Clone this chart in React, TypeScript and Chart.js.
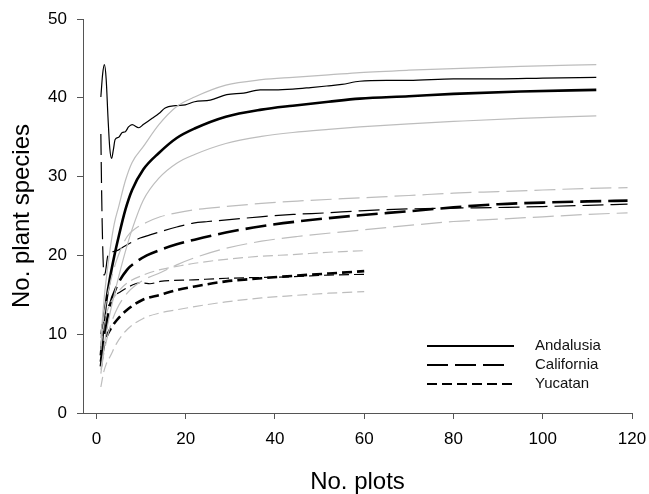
import { useEffect, useRef } from 'react';
import { Chart, registerables } from 'chart.js';

Chart.register(...registerables);

// ---- axis ticks ----
const xTicks = [0, 20, 40, 60, 80, 100, 120];
const yTicks = [0, 10, 20, 30, 40, 50];

// ---- Andalusia (solid) ----
const andX = [1, 1.5, 2, 3, 4, 5, 6.5, 8, 10.5, 14, 18, 22, 29, 37, 44, 52, 59, 70, 80, 95, 112];
const andMean = [7.3, 10.5, 13.3, 17.0, 19.9, 22.4, 25.8, 28.3, 30.9, 33.0, 34.9, 36.1, 37.6, 38.5, 39.0, 39.5, 39.9, 40.2, 40.5, 40.8, 41.0];
const andUpper = [9.5, 13, 16, 20.5, 24, 26.2, 29.5, 31.8, 33.8, 36.6, 38.9, 40.1, 41.6, 42.3, 42.6, 42.9, 43.2, 43.5, 43.7, 44.0, 44.2];
const andLower = [5.5, 7.5, 9.5, 12.5, 15, 17.3, 20.5, 23.3, 27, 29.8, 31.7, 32.8, 34.2, 35.1, 35.6, 36.0, 36.3, 36.7, 37.0, 37.4, 37.7];
const andObsX = [1, 1.4, 1.8, 2.2, 2.6, 3, 3.4, 3.8, 4.2, 5, 5.8, 6.5, 7.2, 8, 9.5, 10.5, 12.5, 14, 15.4, 17.7, 19.9, 22, 25.5, 29.2, 33, 36.7, 40, 44, 48, 51.6, 55, 59, 65, 70, 80, 90, 100, 112];
const andObs = [40.1, 43, 44.2, 42.3, 37.5, 33.6, 32.3, 33.4, 34.7, 35.0, 35.6, 35.7, 36.3, 36.6, 36.2, 36.6, 37.4, 38.0, 38.7, 39.0, 39.1, 39.5, 39.7, 40.4, 40.6, 41.0, 41.0, 41.1, 41.3, 41.5, 41.7, 42.1, 42.2, 42.2, 42.4, 42.4, 42.5, 42.6];

// ---- California (long dash) ----
const calX = [1, 1.5, 2, 3, 4.6, 6.9, 9, 11.3, 14.3, 18, 22, 29, 37, 45, 59, 70, 80, 90, 100, 110, 119];
const calMean = [6.5, 8.5, 10.3, 13.6, 16.1, 18.2, 19.2, 20.0, 20.7, 21.4, 22.0, 22.9, 23.7, 24.3, 25.1, 25.6, 26.1, 26.5, 26.7, 26.85, 26.95];
const calUpper = [8, 11.5, 13.5, 16.3, 19.5, 22.4, 23.5, 24.2, 24.9, 25.4, 25.8, 26.2, 26.6, 26.9, 27.3, 27.6, 27.9, 28.1, 28.3, 28.5, 28.6];
const calLower = [5, 7, 8.5, 10.8, 13.2, 15.2, 16.3, 17.1, 17.8, 18.8, 19.7, 20.9, 21.8, 22.4, 23.2, 23.8, 24.3, 24.6, 24.9, 25.2, 25.4];
const calObsX = [1, 1.15, 1.3, 1.5, 1.7, 2, 2.5, 3, 4, 5, 6.1, 8, 9.8, 12, 14.3, 18, 21.7, 25, 29.2, 36.7, 44.1, 51.6, 59, 70, 80, 92, 100, 110, 119];
const calObs = [35.4, 29, 24, 19.5, 17.5, 17.8, 19.8, 20.4, 20.5, 20.7, 21.1, 21.7, 22.2, 22.6, 23.0, 23.6, 24.1, 24.3, 24.5, 24.9, 25.2, 25.4, 25.65, 25.9, 26.0, 26.1, 26.2, 26.35, 26.5];

// ---- Yucatan (short dash) ----
const yucX = [1, 1.6, 2.2, 3.1, 4.6, 6.9, 10.5, 14.3, 18, 22, 29, 37, 44, 52, 60];
const yucMean = [5.9, 8.4, 9.6, 10.6, 11.8, 13.1, 14.4, 15.0, 15.6, 16.05, 16.7, 17.1, 17.4, 17.7, 18.0];
const yucUpper = [8.5, 11, 12.5, 13.9, 15.2, 16.5, 17.5, 18.2, 18.6, 19.0, 19.5, 19.9, 20.1, 20.4, 20.6];
const yucLower = [3.3, 5.1, 6.2, 7.2, 8.9, 10.6, 12.0, 12.7, 13.1, 13.5, 14.1, 14.6, 14.9, 15.2, 15.4];
const yucObsX = [1, 1.5, 2, 3.1, 4, 5.4, 6.9, 8.3, 9.5, 10.5, 12, 14.3, 21.7, 29.2, 36.7, 44.1, 52, 60];
const yucObs = [10, 12, 13.1, 13.9, 14.8, 15.4, 15.9, 16.3, 16.5, 16.5, 16.4, 16.7, 16.9, 17.1, 17.2, 17.3, 17.5, 17.6];

const legendLabels = ['Andalusia', 'California', 'Yucatan'];

const FONT = "'Liberation Sans', Arial, sans-serif";
const GRAY = '#bdbdbd';
const AXIS = '#555555';
const CAL_DASH = [21, 7];
const YUC_DASH = [10, 5];
const dashes = [[], CAL_DASH, YUC_DASH];
const legendLen = [87, 77, 85];

const pts = (xs: number[], ys: number[]) => xs.map((x, i) => ({ x, y: ys[i] }));

const line = (data: { x: number; y: number }[], color: string, width: number, dash: number[]) => ({
  data,
  borderColor: color,
  borderWidth: width,
  borderDash: dash,
  pointRadius: 0,
  fill: false,
  cubicInterpolationMode: 'monotone' as const,
});

const overlay = {
  id: 'overlay',
  afterDraw(chart: any) {
    const ctx = chart.ctx as CanvasRenderingContext2D;
    const area = chart.chartArea;
    ctx.save();
    // legend
    const ys = [346, 365, 384];
    ctx.font = `15px ${FONT}`;
    ctx.textBaseline = 'middle';
    ctx.textAlign = 'left';
    legendLabels.forEach((lab, i) => {
      ctx.beginPath();
      ctx.setLineDash(dashes[i]);
      ctx.strokeStyle = '#000';
      ctx.lineWidth = 2;
      ctx.moveTo(427, ys[i]);
      ctx.lineTo(427 + legendLen[i], ys[i]);
      ctx.stroke();
      ctx.setLineDash([]);
      ctx.fillStyle = '#111';
      ctx.fillText(lab, 535, ys[i]);
    });
    // axis titles
    ctx.font = `24px ${FONT}`;
    ctx.textAlign = 'center';
    ctx.fillStyle = '#000';
    ctx.fillText('No. plots', (area.left + area.right) / 2, 482.5);
    ctx.translate(22, (area.top + area.bottom) / 2);
    ctx.rotate(-Math.PI / 2);
    ctx.fillText('No. plant species', 0, 0);
    ctx.restore();
  },
};

export default function App() {
  const ref = useRef<HTMLCanvasElement>(null);
  useEffect(() => {
    document.body.style.margin = '0';
    const chart = new Chart(ref.current!, {
      type: 'line',
      data: {
        datasets: [
          line(pts(andX, andUpper), GRAY, 1.2, []),
          line(pts(andX, andLower), GRAY, 1.2, []),
          line(pts(calX, calUpper), GRAY, 1.2, CAL_DASH),
          line(pts(calX, calLower), GRAY, 1.2, CAL_DASH),
          line(pts(yucX, yucUpper), GRAY, 1.2, YUC_DASH),
          line(pts(yucX, yucLower), GRAY, 1.2, YUC_DASH),
          line(pts(andX, andMean), '#000', 2.6, []),
          line(pts(calX, calMean), '#000', 2.6, CAL_DASH),
          line(pts(yucX, yucMean), '#000', 2.6, YUC_DASH),
          line(pts(andObsX, andObs), '#000', 1.2, []),
          line(pts(calObsX, calObs), '#000', 1.2, CAL_DASH),
          line(pts(yucObsX, yucObs), '#000', 1.2, YUC_DASH),
        ] as any,
      },
      options: {
        responsive: false,
        animation: false,
        devicePixelRatio: 1,
        layout: { padding: { top: 19, right: 17, left: 0, bottom: 0 } },
        plugins: { legend: { display: false }, tooltip: { enabled: false } },
        scales: {
          x: {
            type: 'linear',
            min: -3,
            max: 120,
            afterBuildTicks: (s: any) => {
              s.ticks = xTicks.map((v) => ({ value: v }));
            },
            afterFit: (s: any) => {
              s.height = 81;
              s.paddingLeft = 0;
              s.paddingRight = 0;
            },
            grid: { display: true, drawOnChartArea: false, drawTicks: true, tickLength: 6, color: AXIS, lineWidth: 1 },
            border: { display: true, color: AXIS, width: 1 },
            ticks: { font: { family: FONT, size: 17 }, color: '#000', padding: 10, maxRotation: 0, autoSkip: false },
          },
          y: {
            type: 'linear',
            min: 0,
            max: 50,
            afterBuildTicks: (s: any) => {
              s.ticks = yTicks.map((v) => ({ value: v }));
            },
            afterFit: (s: any) => {
              s.width = 83;
              s.paddingTop = 0;
              s.paddingBottom = 0;
            },
            grid: { display: true, drawOnChartArea: false, drawTicks: true, tickLength: 6, color: AXIS, lineWidth: 1 },
            border: { display: true, color: AXIS, width: 1 },
            ticks: { font: { family: FONT, size: 17 }, color: '#000', padding: 10, autoSkip: false },
          },
        },
      } as any,
      plugins: [overlay],
    });
    return () => chart.destroy();
  }, []);
  return <canvas ref={ref} width={649} height={494} style={{ display: 'block' }} />;
}
